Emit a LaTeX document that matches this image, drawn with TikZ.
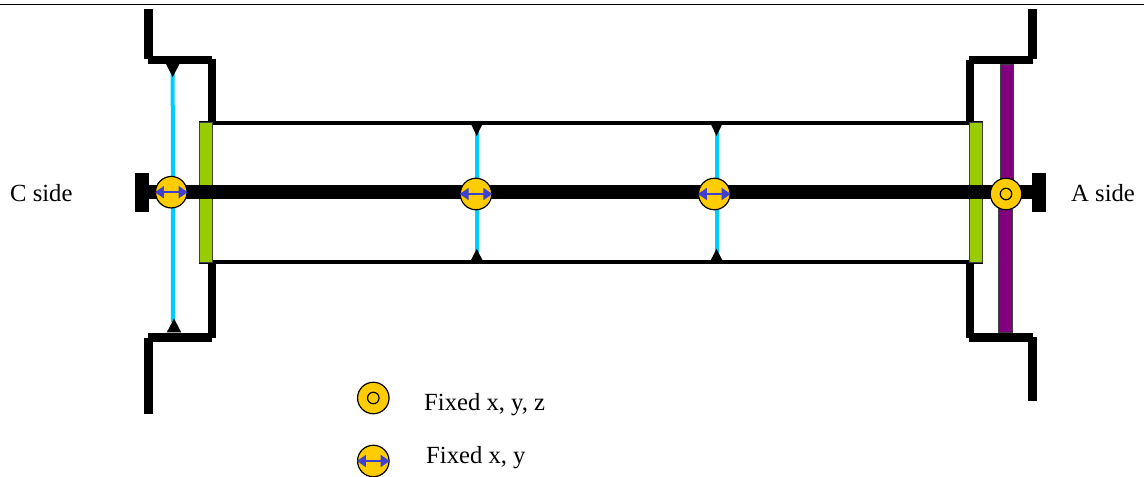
\documentclass[tikz,border=0pt]{standalone}
\usepackage{fontspec}
\setmainfont{Liberation Serif}
\definecolor{pinfill}{HTML}{FFCC00}
\definecolor{arrowblue}{HTML}{3F3FD0}
\definecolor{wirecyan}{HTML}{00CCFF}
\definecolor{flangegreen}{HTML}{99CC00}
\definecolor{barpurple}{HTML}{800080}
\usetikzlibrary{arrows.meta}
\tikzset{
  flange/.style={line width=8.4bp,line cap=butt},
  flangeV/.style={line width=9bp},
  tube/.style={line width=3.6bp},
  wire/.style={wirecyan,line width=4bp},
  pin/.style={circle,draw=black,line width=1.2bp,fill=pinfill,minimum size=31.5bp,inner sep=0pt},
  hole/.style={circle,draw=black,line width=1.2bp,minimum size=11.5bp,inner sep=0pt},
  slide/.style={arrowblue,line width=1.8bp,{Triangle[length=9bp,width=12bp]}-{Triangle[length=9bp,width=12bp]}},
  label/.style={anchor=base west,font=\fontsize{24.65bp}{28bp}\selectfont,inner sep=0pt},
  wedge/.style={fill=black,draw=none},
  collar/.style={draw=black!75,line width=0.9bp,fill=flangegreen},
  barp/.style={draw=black!75,line width=0.9bp,fill=barpurple},
  endplate/.style={fill=black,draw=none}
}
\begin{document}
\begin{tikzpicture}[x=1bp,y=-1bp]
\useasboundingbox (0,0) rectangle (1144,477);
\fill[white] (0,0) rectangle (1144,477);
% top rule
\coordinate (ruleL) at (0,4.4); \coordinate (ruleR) at (1144,4.4);
\draw[line width=1.5bp,black] (ruleL) -- (ruleR);
% wires
\coordinate (w1t) at (172.7,64); \coordinate (w1b) at (173,322);
\coordinate (w2t) at (476.7,125); \coordinate (w2b) at (476.7,255);
\coordinate (w3t) at (716.5,125); \coordinate (w3b) at (716.5,255);
\draw[wire] (w1t) -- (w1b);
\draw[wire] (w2t) -- (w2b);
\draw[wire] (w3t) -- (w3b);
% wedges
\fill[wedge] (165.5,63) -- (180,63) -- (172.7,77) -- cycle;
\fill[wedge] (166.7,332.5) -- (181.3,332.5) -- (174,318.5) -- cycle;
\fill[wedge] (470.5,123) -- (483,123) -- (476.7,136) -- cycle;
\fill[wedge] (470.5,261) -- (483,261) -- (476.7,249) -- cycle;
\fill[wedge] (710.3,123) -- (722.8,123) -- (716.5,136) -- cycle;
\fill[wedge] (710.3,261) -- (722.8,261) -- (716.5,249) -- cycle;
% tube walls
\coordinate (tl) at (199,123.2); \coordinate (tr) at (982.7,123.2);
\coordinate (bl) at (199,261.8); \coordinate (br) at (982.7,261.8);
\draw[tube] (tl) -- (tr);
\draw[tube] (bl) -- (br);
% flanges
\draw[flangeV] (148.5,9) -- (148.5,59.5);
\draw[flange] (148,60.2) -- (212,60.2);
\draw[flange] (212,59) -- (212,123);
\draw[flange] (212,262) -- (212,338);
\draw[flange] (148,337.5) -- (212,337.5);
\draw[flangeV] (148.5,338) -- (148.5,413.7);
\draw[flangeV] (1032.5,9) -- (1032.5,59.5);
\draw[flange] (969,60.2) -- (1033,60.2);
\draw[flange] (970,60) -- (970,123);
\draw[flange] (970,262) -- (970,338);
\draw[flange] (969,337.5) -- (1033,337.5);
\draw[flangeV] (1032.5,337) -- (1032.5,401);
% collars and absorber
\draw[collar] (199,122.7) rectangle (212,262.3);
\draw[collar] (969.6,122.7) rectangle (982.4,262.3);
\draw[barp] (1000.9,64) rectangle (1013.1,185);
\draw[barp] (998.6,205) rectangle (1012.4,332.5);
% rod
\coordinate (rodL) at (140,192.3); \coordinate (rodR) at (1040,192.3);
\draw[line width=14bp] (rodL) -- (rodR);
\fill[endplate] (135,173) rectangle (149.3,212);
\fill[endplate] (1032,173) rectangle (1046,212);
% pins
\node[pin] (p1) at (171.3,192.2) {};
\node[pin] (p2) at (476,194) {};
\node[pin] (p3) at (714.3,194) {};
\node[pin] (p4) at (1006,194) {};
\node[hole] (h4) at (p4) {};
\node[pin] (l1) at (373.3,398) {};
\node[hole] (lh1) at (l1) {};
\node[pin] (l2) at (373.3,461) {};
\draw[slide] (p1.west) -- (p1.east);
\draw[slide] (p2.west) -- (p2.east);
\draw[slide] (p3.west) -- (p3.east);
\draw[slide] (l2.west) -- (l2.east);
% labels
\node[label] (cs) at (10,202) {C side};
\node[label] (as) at (1071,202) {A side};
\node[label] (t1) at (424,410) {Fixed x, y, z};
\node[label] (t2) at (426,463) {Fixed x, y};
\end{tikzpicture}
\end{document}
